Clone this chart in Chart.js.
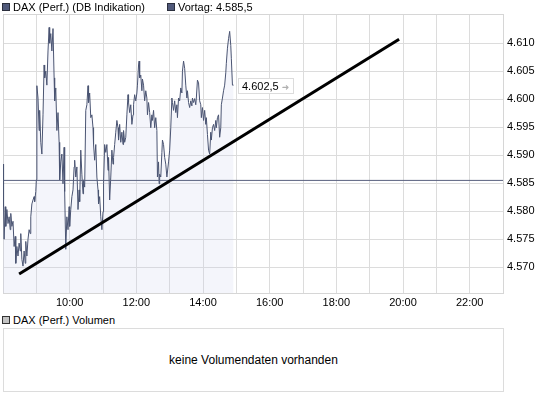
<!DOCTYPE html>
<html>
<head>
<meta charset="utf-8">
<script src="https://cdn.jsdelivr.net/npm/chart.js@4.4.1/dist/chart.umd.min.js"></script>
<style>
  body { margin: 0; background: #fff; font-family: "Liberation Sans", Arial, sans-serif; font-size: 11px; color: #000; }
  #wrap { position: relative; width: 545px; height: 395px; overflow: hidden; }
  #main { position: absolute; left: 0; top: 0; }
  .legend { position: absolute; top: 1px; height: 13px; line-height: 13px; white-space: nowrap; }
  .sq { display: inline-block; width: 6px; height: 6px; border: 1px solid #2b2f3d; background: #50597a; vertical-align: 0px; margin-right: 3px; }
  .sq.grey { background: #c4c4c4; border-color: #333; }
  #priceTag { position: absolute; height: 14px; line-height: 14px; padding: 0 4px 0 3px; background: #fff; border: 1px solid #dcdcdc; white-space: nowrap; }
  #priceTag span { color: #b0b0b0; font-family: "DejaVu Sans", sans-serif; font-size: 9px; margin-left: 3px; }
  #volBox { position: absolute; left: 3px; top: 328px; width: 499px; height: 62px; border: 1px solid #dcdcdc; text-align: center; line-height: 62px; font-size: 12px; }
</style>
</head>
<body>
<div id="wrap">
  <canvas id="main" width="545" height="312"></canvas>
  <div class="legend" style="left:2px;"><span class="sq"></span>DAX (Perf.) (DB Indikation)</div>
  <div class="legend" style="left:167px;"><span class="sq"></span>Vortag: 4.585,5</div>
  <div id="priceTag">4.602,5<span>➜</span></div>
  <div class="legend" style="left:2px; top:314px;"><span class="sq grey"></span>DAX (Perf.) Volumen</div>
  <div id="volBox">keine Volumendaten vorhanden</div>
</div>
<script>
// minutes since midnight / index level
const minutes = [
  480, 481, 482, 484, 485, 487, 489, 491, 493, 494, 496, 498, 500, 502, 503, 505, 507, 509, 511, 512,
  514, 516, 518, 520, 521, 523, 525, 527, 529, 530, 532, 534, 536, 537, 539, 540, 541, 543, 545, 546,
  548, 550, 552, 554, 555, 557, 559, 561, 563, 564, 566, 568, 570, 572, 573, 575, 577, 579, 581, 582,
  584, 586, 588, 590, 591, 593, 595, 597, 599, 600, 602, 604, 606, 608, 609, 611, 613, 615, 617, 618,
  620, 622, 624, 625, 627, 629, 631, 633, 634, 636, 638, 640, 642, 643, 645, 647, 649, 651, 652, 654,
  656, 658, 660, 661, 663, 665, 667, 669, 670, 672, 674, 676, 678, 679, 681, 683, 685, 687, 688, 690,
  692, 694, 696, 697, 699, 701, 703, 705, 706, 708, 710, 712, 714, 715, 717, 719, 721, 722, 724, 725,
  726, 728, 730, 731, 733, 735, 737, 739, 740, 742, 744, 746, 748, 749, 751, 753, 755, 757, 758, 760,
  761, 762, 764, 766, 767, 769, 771, 773, 775, 776, 778, 780, 782, 784, 785, 787, 789, 791, 793, 794,
  796, 798, 800, 802, 803, 805, 807, 809, 811, 812, 814, 816, 818, 820, 821, 823, 825, 827, 828, 830,
  832, 834, 836, 837, 839, 841, 843, 845, 846, 848, 850, 852, 854, 855, 857, 859, 861, 863, 864, 866,
  868, 870, 872, 873, 875, 877, 879, 881, 882, 884, 886, 888, 890, 891, 893, 895
];
const prices = [
  4588.4, 4580.8, 4575.0, 4580.8, 4577.3, 4580.3, 4577.8, 4579.0, 4576.7, 4579.6, 4577.3, 4578.2, 4573.7, 4575.5, 4570.7, 4573.7, 4572.0, 4574.3, 4572.9, 4576.0,
  4571.4, 4570.2, 4572.9, 4570.7, 4574.6, 4572.0, 4575.0, 4576.7, 4576.0, 4579.0, 4581.3, 4582.0, 4582.6, 4581.7, 4583.5, 4585.6, 4602.4, 4600.2, 4594.4, 4598.0,
  4592.3, 4590.2, 4597.2, 4606.1, 4603.8, 4605.0, 4602.5, 4608.6, 4612.8, 4610.0, 4611.7, 4608.6, 4612.6, 4603.8, 4599.7, 4602.0, 4594.4, 4597.6, 4592.3, 4585.6,
  4588.8, 4590.2, 4584.9, 4591.4, 4583.5, 4573.2, 4579.0, 4576.7, 4580.8, 4577.3, 4580.3, 4582.6, 4583.8, 4587.9, 4589.1, 4586.1, 4587.9, 4580.3, 4583.8, 4581.7,
  4590.9, 4586.6, 4583.1, 4585.6, 4584.3, 4598.0, 4599.0, 4602.4, 4599.4, 4601.1, 4596.7, 4597.2, 4594.9, 4591.9, 4589.1, 4591.9, 4586.1, 4583.8, 4581.3, 4582.6,
  4579.0, 4576.7, 4579.9, 4584.9, 4591.9, 4590.5, 4591.9, 4587.3, 4589.6, 4582.0, 4586.1, 4590.9, 4588.4, 4589.6, 4591.9, 4594.1, 4596.2, 4594.9, 4592.7, 4595.5,
  4592.3, 4594.1, 4591.9, 4594.4, 4592.3, 4593.2, 4597.2, 4600.8, 4599.4, 4597.6, 4599.0, 4595.5, 4597.2, 4599.0, 4600.8, 4599.7, 4601.1, 4602.5, 4606.1, 4606.8,
  4603.8, 4604.3, 4601.5, 4603.6, 4602.5, 4599.7, 4601.5, 4600.2, 4597.2, 4599.4, 4597.6, 4594.9, 4597.2, 4596.2, 4598.0, 4594.9, 4596.7, 4594.4, 4586.1, 4588.8,
  4584.9, 4586.6, 4586.1, 4590.5, 4592.7, 4591.9, 4589.6, 4588.4, 4586.1, 4587.0, 4588.8, 4590.9, 4594.9, 4600.2, 4599.4, 4598.0, 4599.7, 4597.6, 4599.0, 4596.7,
  4600.2, 4599.7, 4602.0, 4601.1, 4605.0, 4606.8, 4605.5, 4602.5, 4600.2, 4601.5, 4599.4, 4598.5, 4599.7, 4598.8, 4600.2, 4599.4, 4600.1, 4599.0, 4600.2, 4603.4,
  4602.9, 4599.7, 4599.0, 4596.7, 4598.5, 4596.2, 4598.0, 4595.5, 4596.7, 4593.7, 4590.9, 4590.2, 4594.1, 4592.7, 4594.9, 4595.5, 4594.4, 4596.2, 4594.9, 4596.7,
  4597.2, 4593.2, 4594.9, 4599.0, 4600.2, 4601.5, 4602.5, 4604.7, 4606.4, 4609.1, 4610.8, 4612.1, 4609.6, 4607.3, 4602.5, 4602.5
];
const vortag = 4585.5;
const trendMinutes = [509, 1193];
const trendValues = [4568.8, 4610.7];
const xTickHours = [8, 9, 10, 11, 12, 13, 14, 15, 16, 17, 18, 19, 20, 21, 22, 23];
const xLabelHours = [10, 12, 14, 16, 18, 20, 22];
const yTickValues = [4570, 4575, 4580, 4585, 4590, 4595, 4600, 4605, 4610];

const fmtLevel = v => Math.floor(v / 1000) + '.' + String(Math.round(v % 1000)).padStart(3, '0');

Chart.defaults.font.family = '"Liberation Sans", Arial, sans-serif';
Chart.defaults.font.size = 11;
Chart.defaults.color = '#000';

const frame = {
  id: 'frame',
  beforeDatasetsDraw(chart) {
    const a = chart.chartArea, c = chart.ctx;
    c.save();
    c.strokeStyle = '#d6d6d6';
    c.lineWidth = 1;
    c.strokeRect(Math.round(a.left) + 0.5, Math.round(a.top) + 0.5, Math.round(a.right - a.left), Math.round(a.bottom - a.top));
    c.restore();
  },
  afterRender(chart) {
    const meta = chart.getDatasetMeta(0);
    const last = meta.data[meta.data.length - 1];
    const tag = document.getElementById('priceTag');
    tag.style.left = Math.round(last.x + 4) + 'px';
    tag.style.top = Math.round(last.y - 7) + 'px';
  }
};

new Chart(document.getElementById('main'), {
  type: 'line',
  data: {
    datasets: [
      {
        data: minutes.map((m, i) => ({ x: m, y: prices[i] })),
        borderColor: '#4a5472',
        borderWidth: 1,
        backgroundColor: 'rgba(205,210,238,0.22)',
        fill: 'start',
        pointRadius: 0,
        tension: 0,
        order: 2
      },
      {
        data: [{ x: 480, y: vortag }, { x: 1380, y: vortag }],
        borderColor: '#59617f',
        borderWidth: 1,
        pointRadius: 0,
        order: 1
      },
      {
        data: trendMinutes.map((m, i) => ({ x: m, y: trendValues[i] })),
        borderColor: '#000',
        borderWidth: 3,
        pointRadius: 0,
        order: 0
      }
    ]
  },
  options: {
    responsive: false,
    animation: false,
    devicePixelRatio: 1,
    layout: { padding: { left: 2, top: 14, right: 0, bottom: 0 } },
    plugins: { legend: { display: false }, tooltip: { enabled: false } },
    scales: {
      x: {
        type: 'linear',
        min: 480,
        max: 1380,
        afterBuildTicks: s => { s.ticks = xTickHours.map(h => ({ value: h * 60 })); },
        afterFit: s => { s.height = 19; },
        grid: { color: '#dcdcdc', drawTicks: false },
        border: { display: false },
        ticks: {
          padding: 3,
          maxRotation: 0,
          autoSkip: false,
          callback: v => xLabelHours.includes(v / 60) ? (v / 60) + ':00' : ''
        }
      },
      y: {
        position: 'right',
        min: 4565.4,
        max: 4615.2,
        afterBuildTicks: s => { s.ticks = yTickValues.map(v => ({ value: v })); },
        afterFit: s => { s.width = 42; },
        grid: { color: '#dcdcdc', drawTicks: false },
        border: { display: false },
        ticks: { padding: 4, callback: v => fmtLevel(v) }
      }
    }
  },
  plugins: [frame]
});
</script>
</body>
</html>
